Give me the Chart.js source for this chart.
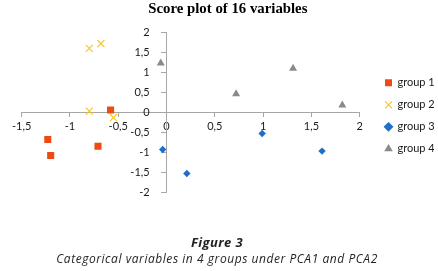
<!DOCTYPE html>
<html><head><meta charset="utf-8">
<script src="https://cdn.jsdelivr.net/npm/chart.js"></script>
<style>
html,body{margin:0;padding:0;background:#fff;}
#wrap{position:relative;width:438px;height:271px;overflow:hidden;background:#fff;}
canvas{position:absolute;left:0;top:0;}
.cap{position:absolute;left:0;width:434px;text-align:center;font-family:"Open Sans";font-style:italic;color:#231f20;white-space:nowrap;line-height:1;}
</style></head><body>
<div id="wrap"><canvas id="c" width="438" height="271"></canvas>
<div class="cap" id="fig" style="top:235.5px;font-size:13px;font-weight:bold;letter-spacing:0.4px;">Figure 3</div>
<div class="cap" id="sub" style="top:252.5px;font-size:12px;letter-spacing:0.55px;">Categorical variables in 4 groups under PCA1 and PCA2</div>
</div>
<script>
const chartTitle = 'Score plot of 16 variables';
const groupNames = ['group 1', 'group 2', 'group 3', 'group 4'];
const group1X = [-0.58, -1.23, -1.20, -0.71];
const group1Y = [0.07, -0.67, -1.07, -0.84];
const group2X = [-0.80, -0.68, -0.80, -0.55];
const group2Y = [1.61, 1.73, 0.04, -0.12];
const group3X = [-0.04, 0.21, 0.99, 1.61];
const group3Y = [-0.92, -1.52, -0.52, -0.96];
const group4X = [-0.06, 0.72, 1.31, 1.82];
const group4Y = [1.24, 0.47, 1.11, 0.19];
const xTicks = [-1.5, -1, -0.5, 0, 0.5, 1, 1.5, 2];
const yTicks = [-2, -1.5, -1, -0.5, 0, 0.5, 1, 1.5, 2];

const pts = (xs, ys) => xs.map((x, i) => ({x: x, y: ys[i]}));
const fmt = v => String(v).replace('.', ',');
const axisColor = '#a6a6a6';
const tickFont = {family: 'Lato', size: 11};
const yLabelGap = '      ';

const datasets = [
  {label: groupNames[0], data: pts(group1X, group1Y), pointStyle: 'rect', pointRadius: 5,
   backgroundColor: '#ee4a15', borderColor: '#ee4a15', borderWidth: 0},
  {label: groupNames[1], data: pts(group2X, group2Y), pointStyle: 'crossRot', pointRadius: 5,
   backgroundColor: '#f6c630', borderColor: '#f6c630', borderWidth: 1.2},
  {label: groupNames[2], data: pts(group3X, group3Y), pointStyle: 'rectRot', pointRadius: 3.7,
   backgroundColor: '#1f6fc5', borderColor: '#1f6fc5', borderWidth: 0},
  {label: groupNames[3], data: pts(group4X, group4Y), pointStyle: 'triangle', pointRadius: 4.6,
   backgroundColor: '#8a8a8a', borderColor: '#8a8a8a', borderWidth: 0}
].map(d => Object.assign(d, {xAxisID: 'x', yAxisID: 'y', pointHoverRadius: d.pointRadius}));

new Chart(document.getElementById('c'), {
  type: 'scatter',
  data: {datasets: datasets},
  options: {
    responsive: false,
    animation: false,
    events: [],
    layout: {padding: {left: 21.7, right: 4, top: 0, bottom: 78.3}},
    plugins: {
      tooltip: {enabled: false},
      title: {display: true, text: chartTitle, color: '#000',
        font: {family: 'Liberation Serif', size: 14.8, weight: 'bold'},
        padding: {top: 0.5, bottom: 14.5}},
      legend: {display: true, position: 'right', align: 'center', maxWidth: 60,
        title: {display: true, text: ' ', font: {size: 10}, padding: 13.5},
        labels: {usePointStyle: true, boxWidth: 7, boxHeight: 7, padding: 11,
          color: '#1a1a1a', font: {family: 'Lato', size: 11}}}
    },
    scales: {
      x: {type: 'linear', position: {y: 0}, min: -1.5, max: 2,
        afterFit: s => { s.height = 0; },
        afterBuildTicks: s => { s.ticks = xTicks.map(v => ({value: v})); },
        grid: {display: true, drawOnChartArea: false, drawTicks: true, tickLength: 4, color: axisColor},
        border: {display: true, color: axisColor, width: 1},
        ticks: {font: tickFont, color: '#1a1a1a', padding: 3, maxRotation: 0, autoSkip: false, callback: v => fmt(v)}},
      y: {type: 'linear', position: {x: 0}, min: -2, max: 2,
        afterFit: s => { s.width = 0; },
        afterBuildTicks: s => { s.ticks = yTicks.map(v => ({value: v})); },
        grid: {display: true, drawOnChartArea: false, drawTicks: true, tickLength: 5, color: axisColor},
        border: {display: true, color: axisColor, width: 1},
        ticks: {font: tickFont, color: '#1a1a1a', padding: 6, autoSkip: false, callback: v => fmt(v) + yLabelGap}},
      pad: {type: 'linear', position: 'right', display: true,
        afterFit: s => { s.width = 14.3; },
        grid: {display: false}, border: {display: false}, ticks: {display: false}}
    }
  }
});
</script>
</body></html>
